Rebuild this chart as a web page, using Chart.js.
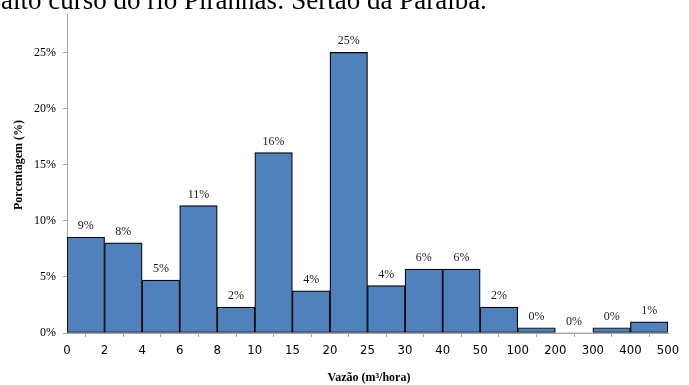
<!DOCTYPE html>
<html>
<head>
<meta charset="utf-8">
<script src="https://cdn.jsdelivr.net/npm/chart.js@4/dist/chart.umd.min.js"></script>
<style>
  html, body { margin: 0; padding: 0; background: #fff; }
  #wrap { position: relative; width: 689px; height: 385px; overflow: hidden; }
  canvas { display: block; }
</style>
</head>
<body>
<div id="wrap"><canvas id="c" width="689" height="385"></canvas></div>
<script>
// Class boundaries of flow (m³/hora)
const edges = ['0', '2', '4', '6', '8', '10', '15', '20', '25', '30', '40', '50', '100', '200', '300', '400', '500'];
// Share of wells in each flow class (%)
const percentages = [8.53, 8.03, 4.72, 11.35, 2.31, 16.07, 3.75, 25.0, 4.22, 5.69, 5.69, 2.31, 0.47, 0, 0.47, 1.0];
const yTicks = [0, 5, 10, 15, 20, 25];

const caption = 'alto curso do rio Piranhas: Sertão da Paraíba.';
const xTitle = 'Vazão (m³/hora)';
const yTitle = 'Porcentagem (%)';

const points = percentages.map((v, i) => ({ x: i + 0.5, y: v }));

const overlay = {
  id: 'overlay',
  afterDatasetsDraw(chart) {
    const ctx = chart.ctx;
    const meta = chart.getDatasetMeta(0);
    ctx.save();
    ctx.fillStyle = '#1a1a1a';
    ctx.font = '12px "Liberation Serif", "Times New Roman", serif';
    ctx.textAlign = 'center';
    ctx.textBaseline = 'alphabetic';
    meta.data.forEach((bar, i) => {
      ctx.fillText(Math.round(percentages[i]) + '%', bar.x, bar.y - 8);
    });
    ctx.restore();
  },
  afterDraw(chart) {
    const ctx = chart.ctx;
    ctx.save();
    // running caption line above the chart
    ctx.fillStyle = '#000';
    ctx.font = '27px "Liberation Serif", "Times New Roman", serif';
    ctx.textAlign = 'left';
    ctx.textBaseline = 'alphabetic';
    ctx.fillText(caption, 1, 9);
    // axis titles
    ctx.font = 'bold 12px "Liberation Serif", "Times New Roman", serif';
    ctx.textAlign = 'center';
    ctx.textBaseline = 'middle';
    ctx.fillText(xTitle, 369, 378);
    ctx.translate(19, 165);
    ctx.rotate(-Math.PI / 2);
    ctx.fillText(yTitle, 0, 0);
    ctx.restore();
  }
};

new Chart(document.getElementById('c'), {
  type: 'bar',
  data: {
    datasets: [{
      data: points,
      backgroundColor: '#4F81BD',
      borderColor: '#000000',
      borderWidth: ctx => (ctx.raw && ctx.raw.y === 0 ? 0 : 1.2),
      borderSkipped: false,
      categoryPercentage: 1,
      barPercentage: 1
    }]
  },
  options: {
    responsive: false,
    animation: false,
    events: [],
    layout: { padding: { top: 10, right: 21, left: 0, bottom: 0 } },
    plugins: { legend: { display: false }, tooltip: { enabled: false }, title: { display: false } },
    scales: {
      x: {
        type: 'linear',
        min: 0,
        max: 16,
        offset: false,
        afterFit: s => { s.height = 52; },
        afterBuildTicks: s => { s.ticks = edges.map((_, i) => ({ value: i })); },
        ticks: {
          autoSkip: false,
          maxRotation: 0,
          padding: 6,
          color: '#000',
          font: { family: '"DejaVu Sans Condensed", "Liberation Sans Narrow", "Liberation Sans", sans-serif', size: 13 },
          callback: v => edges[v]
        },
        grid: { display: true, drawOnChartArea: false, drawTicks: true, tickLength: 4, color: '#A6A6A6' },
        border: { display: true, color: '#A6A6A6', width: 1 }
      },
      y: {
        min: 0,
        max: 28.4,
        afterFit: s => { s.width = 67; },
        afterBuildTicks: s => { s.ticks = yTicks.map(v => ({ value: v })); },
        ticks: {
          padding: 7,
          color: '#000',
          font: { family: '"Liberation Serif", "Times New Roman", serif', size: 12 },
          callback: v => v + '%'
        },
        grid: { display: true, drawOnChartArea: false, drawTicks: true, tickLength: 4, color: '#A6A6A6' },
        border: { display: true, color: '#A6A6A6', width: 1 }
      }
    }
  },
  plugins: [overlay]
});
</script>
</body>
</html>
